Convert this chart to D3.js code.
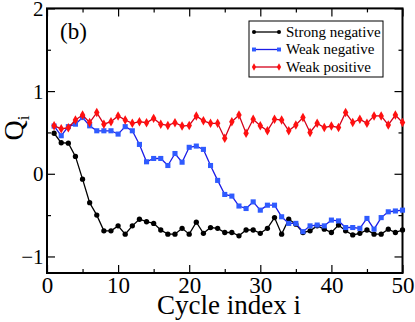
<!DOCTYPE html>
<html lang="en">
<head>
<meta charset="UTF-8">
<title>Q_i vs cycle index</title>
<script src="https://cdn.jsdelivr.net/npm/d3@7/dist/d3.min.js"></script>
<style>
  body { margin: 0; background: #fff; }
</style>
</head>
<body>
<svg width="415" height="322" id="chart"></svg>
<script>
// cycle index 1..50
const cycles = d3.range(1, 51);

const strongNegative = [0.49, 0.375, 0.37, 0.21, -0.065, -0.35, -0.5, -0.69, -0.69, -0.63,
    -0.73, -0.63, -0.55, -0.58, -0.6, -0.68, -0.73, -0.73, -0.66, -0.73,
    -0.585, -0.72, -0.65, -0.66, -0.71, -0.71, -0.75, -0.68, -0.68, -0.72,
    -0.66, -0.53, -0.73, -0.55, -0.61, -0.71, -0.69, -0.63, -0.67, -0.71,
    -0.62, -0.69, -0.74, -0.72, -0.68, -0.73, -0.73, -0.67, -0.71, -0.68];

const weakNegative = [0.577, 0.46, 0.57, 0.6, 0.68, 0.58, 0.52, 0.52, 0.52, 0.48,
    0.57, 0.52, 0.355, 0.145, 0.185, 0.185, 0.1, 0.245, 0.14, 0.32,
    0.335, 0.295, 0.1, -0.08, -0.25, -0.27, -0.39, -0.42, -0.34, -0.44,
    -0.38, -0.38, -0.52, -0.6, -0.6, -0.7, -0.63, -0.62, -0.63, -0.56,
    -0.57, -0.65, -0.65, -0.66, -0.54, -0.67, -0.53, -0.46, -0.45, -0.44];

const weakPositive = [0.58, 0.545, 0.556, 0.65, 0.71, 0.62, 0.74, 0.6, 0.63, 0.7,
    0.65, 0.61, 0.63, 0.617, 0.67, 0.6, 0.585, 0.617, 0.577, 0.585,
    0.7, 0.64, 0.61, 0.61, 0.43, 0.63, 0.71, 0.49, 0.66, 0.58,
    0.52, 0.66, 0.65, 0.52, 0.59, 0.68, 0.5, 0.61, 0.56, 0.577,
    0.56, 0.74, 0.62, 0.66, 0.61, 0.7, 0.7, 0.59, 0.71, 0.62];

const seriesNames = ["Strong negative", "Weak negative", "Weak positive"];
const xTicks = [0, 10, 20, 30, 40, 50];
const yTicks = [-1, 0, 1, 2];

const serif = '"Liberation Serif"';
const margin = { top: 8.4, right: 12.5, bottom: 49, left: 47 };
const width = 415, height = 322;
const svg = d3.select("#chart");

const x = d3.scaleLinear().domain([0, 50]).range([margin.left, width - margin.right]);
const y = d3.scaleLinear().domain([-1.2, 2]).range([height - margin.bottom, margin.top]);

const series = [
    { name: seriesNames[0], values: strongNegative, line: "#000", fill: "#000", symbol: d3.symbolCircle, size: 22 },
    { name: seriesNames[1], values: weakNegative, line: "#1c1ce6", fill: "#2f5bff", symbol: d3.symbolSquare, size: 26 },
    { name: seriesNames[2], values: weakPositive, line: "#d4001a", fill: "#ff1010", symbol: d3.symbolDiamond, size: 26 }
];

// axes: inward ticks on all four sides
const majorLen = 8, minorLen = 4;
const xMinor = d3.range(5, 50, 10);
const yMinor = [-0.5, 0.5, 1.5];

function addAxis(axisFn, scale, ticks, len, transform, labels) {
    const g = svg.append("g")
        .attr("transform", transform)
        .call(axisFn(scale).tickValues(ticks).tickSize(-len).tickPadding(4)
            .tickFormat(labels ? d3.format("d") : ""));
    g.attr("font-family", null);
    g.select(".domain").remove();
    g.selectAll(".tick line").attr("stroke", "#000").attr("stroke-width", 1.2);
    g.selectAll(".tick text").attr("fill", "#000").style("font-family", serif);
    return g;
}

const bottomY = height - margin.bottom, rightX = width - margin.right;
addAxis(d3.axisBottom, x, xTicks, majorLen, `translate(0,${bottomY})`, true)
    .selectAll(".tick text").attr("font-size", 23).attr("dy", null).attr("y", 20);
addAxis(d3.axisBottom, x, xMinor, minorLen, `translate(0,${bottomY})`, false);
addAxis(d3.axisTop, x, xTicks, majorLen, `translate(0,${margin.top})`, false);
addAxis(d3.axisTop, x, xMinor, minorLen, `translate(0,${margin.top})`, false);
addAxis(d3.axisLeft, y, yTicks, majorLen, `translate(${margin.left},0)`, true)
    .selectAll(".tick text").attr("font-size", 21).attr("x", -3.5).attr("dy", "0.34em");
addAxis(d3.axisLeft, y, yMinor, minorLen, `translate(${margin.left},0)`, false);
addAxis(d3.axisRight, y, yTicks, majorLen, `translate(${rightX},0)`, false);
addAxis(d3.axisRight, y, yMinor, minorLen, `translate(${rightX},0)`, false);

// frame
svg.append("rect")
    .attr("x", margin.left).attr("y", margin.top)
    .attr("width", rightX - margin.left).attr("height", bottomY - margin.top)
    .attr("fill", "none").attr("stroke", "#000").attr("stroke-width", 2);

// lines and markers
const line = d3.line().x((d, i) => x(cycles[i])).y(d => y(d));
series.forEach(s => {
    svg.append("path")
        .datum(s.values)
        .attr("d", line)
        .attr("fill", "none")
        .attr("stroke", s.line)
        .attr("stroke-width", 1.3);
    svg.append("g").selectAll("path")
        .data(s.values)
        .join("path")
        .attr("transform", (d, i) => `translate(${x(cycles[i])},${y(d)})`)
        .attr("d", d3.symbol().type(s.symbol).size(s.size))
        .attr("fill", s.fill);
});

// legend
const legend = svg.append("g").attr("transform", "translate(249,21)");
legend.append("rect")
    .attr("width", 134).attr("height", 56)
    .attr("fill", "#fff").attr("stroke", "#000").attr("stroke-width", 1);
series.forEach((s, k) => {
    const ly = 11 + k * 17.5;
    legend.append("line")
        .attr("x1", 5).attr("x2", 30).attr("y1", ly).attr("y2", ly)
        .attr("stroke", s.line).attr("stroke-width", 1.3);
    [5, 30].forEach(px => legend.append("path")
        .attr("transform", `translate(${px},${ly})`)
        .attr("d", d3.symbol().type(s.symbol).size(s.size * 0.6))
        .attr("fill", s.fill));
    legend.append("text")
        .attr("x", 37).attr("y", ly).attr("dy", "0.33em")
        .attr("font-size", 15).attr("fill", "#000")
        .style("font-family", serif)
        .text(s.name);
});

// panel tag
svg.append("text").attr("x", 60).attr("y", 39)
    .attr("font-size", 23).style("font-family", serif).text("(b)");

// axis titles
svg.append("text")
    .attr("x", 229).attr("y", 314)
    .attr("text-anchor", "middle").attr("font-size", 27)
    .style("font-family", serif)
    .text("Cycle index i");

const yTitle = svg.append("text")
    .attr("transform", "translate(23,128) rotate(-90)")
    .attr("text-anchor", "middle").attr("font-size", 28)
    .style("font-family", serif);
yTitle.append("tspan").text("Q");
yTitle.append("tspan").attr("font-size", 17).attr("dy", 6).text("i");
</script>
</body>
</html>
